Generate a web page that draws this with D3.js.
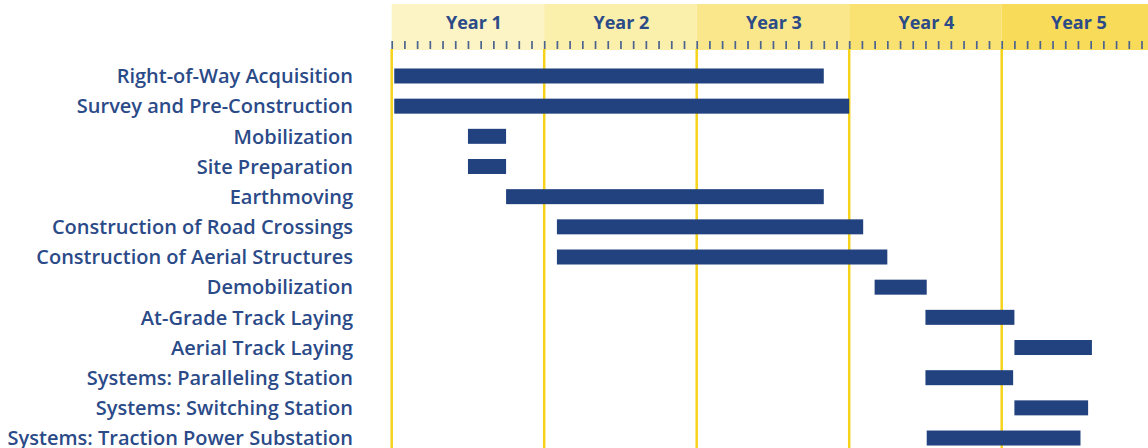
<!DOCTYPE html>
<html>
<head>
<meta charset="utf-8">
<script src="https://cdn.jsdelivr.net/npm/d3@7"></script>
<style>
  body { margin: 0; background: #fff; }
  svg { display: block; }
  .task-label { font-family: "Open Sans", sans-serif; font-weight: 600; font-size: 20px; fill: #2b4a88; }
  .year-label { font-family: "Open Sans", sans-serif; font-weight: 700; font-size: 18px; fill: #2b4a88; }
</style>
</head>
<body>
<svg id="chart" width="1148" height="448"></svg>
<script>
// tasks, top to bottom
const tasks = [
  "Right-of-Way Acquisition",
  "Survey and Pre-Construction",
  "Mobilization",
  "Site Preparation",
  "Earthmoving",
  "Construction of Road Crossings",
  "Construction of Aerial Structures",
  "Demobilization",
  "At-Grade Track Laying",
  "Aerial Track Laying",
  "Systems: Paralleling Station",
  "Systems: Switching Station",
  "Systems: Traction Power Substation"
];
// start / end in months from start of Year 1
const startMonth = [0.2, 0.2, 6, 6, 9, 13, 13, 38, 42, 49, 42, 49, 42.1];
const endMonth   = [34, 36, 9, 9, 34, 37.1, 39, 42.1, 49, 55.1, 48.9, 54.8, 54.2];

const years = ["Year 1", "Year 2", "Year 3", "Year 4", "Year 5"];
const yearColors = ["#fcf4c4", "#fbefac", "#fae78c", "#f9e172", "#f8db58"];

const svg = d3.select("#chart");
const left = 391.7, yearW = 152.5;
const monthsPerYear = 12;

const x = d3.scaleLinear()
  .domain([0, years.length * monthsPerYear])
  .range([left, left + yearW * years.length]);

const y = d3.scaleBand()
  .domain(tasks)
  .range([60.9, 60.9 + 30.17 * tasks.length])
  .padding(0);

const headerTop = 4, headerBottom = 50;
const barH = 15;

// header bands
const header = svg.append("g").attr("class", "header");
header.selectAll("rect")
  .data(years)
  .join("rect")
  .attr("x", (d, i) => x(i * monthsPerYear))
  .attr("y", headerTop)
  .attr("width", (d, i) => x((i + 1) * monthsPerYear) - x(i * monthsPerYear))
  .attr("height", headerBottom - headerTop)
  .attr("fill", (d, i) => yearColors[i]);

header.selectAll("text")
  .data(years)
  .join("text")
  .attr("class", "year-label")
  .attr("x", (d, i) => x(i * monthsPerYear + monthsPerYear / 2) + (i === 0 ? 6 : 1))
  .attr("y", 29)
  .attr("text-anchor", "middle")
  .text(d => d);

// monthly ticks
const axis = svg.append("g")
  .attr("transform", "translate(0,41)")
  .call(d3.axisBottom(x)
    .tickValues(d3.range(0, years.length * monthsPerYear + 1))
    .tickSize(8)
    .tickFormat(""));
axis.select(".domain").remove();
axis.selectAll(".tick line")
  .attr("stroke", "#4a638f")
  .attr("stroke-width", 1.7);

// year boundary lines
svg.append("g")
  .selectAll("line")
  .data(d3.range(0, years.length))
  .join("line")
  .attr("x1", d => x(d * monthsPerYear))
  .attr("x2", d => x(d * monthsPerYear))
  .attr("y1", 49)
  .attr("y2", 448)
  .attr("stroke", "#f6d31a")
  .attr("stroke-width", 2.5);

// bars
svg.append("g")
  .selectAll("rect")
  .data(tasks)
  .join("rect")
  .attr("x", (d, i) => x(startMonth[i]))
  .attr("y", d => y(d) + y.bandwidth() / 2 - barH / 2)
  .attr("width", (d, i) => x(endMonth[i]) - x(startMonth[i]))
  .attr("height", barH)
  .attr("fill", "#22427f");

// task labels
svg.append("g")
  .selectAll("text")
  .data(tasks)
  .join("text")
  .attr("class", "task-label")
  .attr("x", 353)
  .attr("y", d => y(d) + y.bandwidth() / 2)
  .attr("dy", "0.36em")
  .attr("text-anchor", "end")
  .text(d => d);
</script>
</body>
</html>
